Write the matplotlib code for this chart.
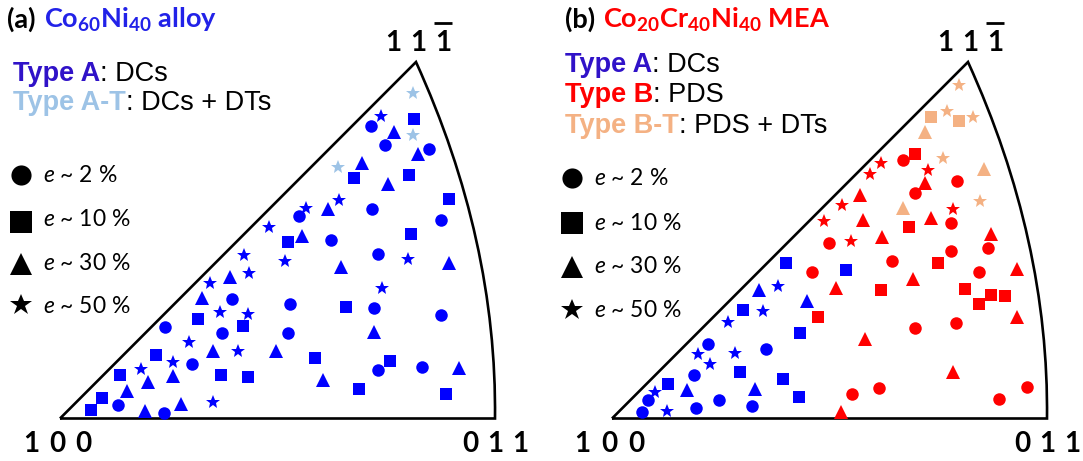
import matplotlib
matplotlib.use('Agg')
import matplotlib.pyplot as plt
from matplotlib.path import Path
from matplotlib.patches import PathPatch

# ---------------- data (pixel positions) ----------------
# Panel (a): Co60Ni40 alloy, Type A (blue)
a_A_circle = [(371, 125.7), (385.3, 144.7), (429, 149), (299.3, 215.7), (372, 208.7), (440.7, 220.3),
              (331.3, 240), (378, 254.3), (290.3, 304), (374.3, 307.7), (441, 315), (288, 332.7),
              (378, 370), (422.3, 366.7), (232.3, 299), (221.7, 332.7), (165, 326.7), (192.3, 363.7),
              (118, 405.3), (164, 412.7)]
a_A_square = [(414, 119), (354, 178.3), (408.7, 175), (449, 199), (287.7, 241.5), (410.7, 233.5),
              (345.7, 307.3), (314.7, 358), (390, 360.7), (359.3, 389.3), (446.3, 393.7), (198, 319.3),
              (242.7, 325.7), (156, 355), (120.3, 375.3), (220.7, 375.3), (248.3, 377), (102, 398.3),
              (91.3, 410)]
a_A_triangle = [(394, 131.7), (417.7, 154.3), (361.7, 163.3), (388, 184.3), (327.7, 209.3), (302.3, 235.7),
                (341, 266.7), (449, 263.3), (373.7, 331.7), (276.3, 351.3), (458.7, 368), (323, 379.7),
                (230, 276.7), (201.7, 298.3), (213, 350.7), (173, 375.7), (148.3, 381.7), (127.3, 390.7),
                (181.3, 404.3), (145, 411)]
a_A_star = [(380.7, 116), (338.7, 200), (306, 208), (269.3, 226.7), (284.7, 260.7), (407.7, 259.3),
            (382.3, 287.7), (244.3, 255), (249.3, 272.7), (210.3, 282.7), (220, 311.7), (248.3, 314.3),
            (189, 342.3), (238, 350.7), (173.3, 362.3), (140.7, 369.3), (213, 402.3)]
# Panel (a): Type A-T (light blue)
a_AT_star = [(413.3, 92.7), (413, 135), (338.3, 167.3)]

# Panel (b): Co20Cr40Ni40 MEA, Type A (blue)
b_A_circle = [(707.7, 344), (766.3, 348.7), (693.7, 374.7), (648.3, 400), (719, 399.7), (695.7, 408),
              (751.7, 405.7), (641.7, 411.7)]
b_A_square = [(786, 263.3), (845.7, 270.3), (743, 310.3), (800.3, 333), (740, 371.7), (782.7, 379.3),
              (667.7, 384), (799.3, 397)]
b_A_triangle = [(759, 290), (807.3, 301.3), (686.7, 390.3), (754.7, 389)]
b_A_star = [(778.3, 286), (763.3, 311), (728, 321.7), (697.7, 354), (734.7, 352.7), (710.3, 364.3),
            (655, 391.7), (666.7, 411)]
# Panel (b): Type B (red)
b_B_circle = [(903.3, 160), (956.7, 181), (915, 192.7), (950.7, 222.7), (829.3, 243), (950.7, 250.5),
              (988.3, 248.3), (891.7, 260.7), (811.7, 272.2), (979.3, 272.3), (956.3, 322.7), (915, 328.3),
              (879, 388), (1026.7, 387), (852.3, 393.7), (999, 399.3)]
b_B_square = [(915, 154.3), (909.3, 226.7), (937.7, 262.7), (881, 290.3), (964.7, 288.7), (991, 295.3),
              (1005.3, 296.3), (978.7, 303.7), (818.3, 316.8)]
b_B_triangle = [(924.7, 183.3), (860, 195), (930.7, 217.7), (862.7, 220), (991, 233.7), (881.7, 237.2),
                (1017.3, 269), (913, 279), (835.7, 287.7), (1017.3, 317.3), (865, 339), (953, 371.7),
                (841.3, 412.3)]
b_B_star = [(880.7, 162.7), (927.7, 170), (870, 174.3), (841.7, 205), (953.3, 209), (824, 220.7),
            (850.7, 241)]
# Panel (b): Type B-T (salmon)
b_BT_star = [(959.3, 85), (947, 110.7), (973.3, 116.7), (943.3, 158.3), (980, 200.7)]
b_BT_square = [(930.7, 116.7), (959, 120.7)]
b_BT_triangle = [(925, 131.7), (983.7, 169), (903.3, 208.3)]

strain_labels = ['2 %', '10 %', '30 %', '50 %']
corner_bottom_left = ['1', '0', '0']
corner_bottom_right = ['0', '1', '1']
corner_top = ['1', '1', '1']

# ---------------- style ----------------
BLUE = '#0000FF'
LIGHT = '#9DC3E6'
RED = '#FF0000'
SALMON = '#F4B183'
TYPEA_TXT = '#3012C8'
TITLE_A = '#2222E8'

plt.rcParams['mathtext.fontset'] = 'custom'
plt.rcParams['mathtext.rm'] = 'Lato:bold'
plt.rcParams['mathtext.bf'] = 'Lato:bold'
plt.rcParams['mathtext.it'] = 'Lato:italic'

W, H = 1083, 461
fig = plt.figure(figsize=(W / 100, H / 100), dpi=100)
ax = fig.add_axes([0, 0, 1, 1])
ax.set_xlim(0, W)
ax.set_ylim(H, 0)
ax.axis('off')
R = fig.canvas.get_renderer()

MS = {'o': 9.0, 's': 8.8, '^': 9.4, '*': 10.5}
LEG_MS = {'o': 14.5, 's': 15.5, '^': 15.5, '*': 16.5}


def scatter(pts, marker, color):
    xs = [p[0] for p in pts]
    ys = [p[1] for p in pts]
    ax.plot(xs, ys, linestyle='none', marker=marker, markersize=MS[marker],
            color=color, markeredgewidth=0, zorder=3)


def triangle(dx):
    O = (60 + dx, 418.5)
    A = (416 + dx, 62)
    C = (497 + dx, 240)
    B = (495 + dx, 418.5)
    path = Path([O, A, C, B, O], [Path.MOVETO, Path.LINETO, Path.CURVE3, Path.CURVE3, Path.LINETO])
    ax.add_patch(PathPatch(path, facecolor='none', edgecolor='black', lw=1.9,
                           joinstyle='miter', zorder=2))


def seq(x, y, pieces, size, family='Liberation Sans'):
    last = None
    for s, color, weight, gap in pieces:
        x += gap
        t = ax.text(x, y, s, va='baseline', ha='left', color=color, fontsize=size,
                    fontweight=weight, family=family)
        x += t.get_window_extent(renderer=R).width
        last = t
    return last


def corner(xc, y, digits, pitch=26, bar=False):
    n = len(digits)
    t = None
    for i, d in enumerate(digits):
        t = ax.text(xc + (i - (n - 1) / 2) * pitch, y, d, ha='center', va='baseline',
                    fontsize=20, fontweight='bold', family='Lato', color='black')
    if bar:
        bb = t.get_window_extent(renderer=R)
        inv = ax.transData.inverted()
        (x0, y0), (x1, y1) = inv.transform([(bb.x0, bb.y0), (bb.x1, bb.y1)])
        ax.plot([x0 - 1, x1 + 1], [y1 - 7, y1 - 7], color='black', lw=2.0, solid_capstyle='butt')


def legend(xm, xt, ys_m, ys_t):
    for mk, ym, yt, lab in zip(['o', 's', '^', '*'], ys_m, ys_t, strain_labels):
        ax.plot([xm], [ym], marker=mk, markersize=LEG_MS[mk], color='black',
                markeredgewidth=0, linestyle='none')
        ax.text(xt, yt, r'$\mathit{e}$ ~ ' + lab, va='baseline', ha='left',
                fontsize=16.5, family='Lato', color='black')


# ---------------- panel (a) ----------------
triangle(0)
scatter(a_A_circle, 'o', BLUE)
scatter(a_A_square, 's', BLUE)
scatter(a_A_triangle, '^', BLUE)
scatter(a_A_star, '*', BLUE)
scatter(a_AT_star, '*', LIGHT)

seq(7, 28, [('(a)', 'black', 'bold', 0),
            (r'Co$_{\mathbf{60}}$Ni$_{\mathbf{40}}$ alloy', TITLE_A, 'bold', 8)], 19.5, 'Lato')
seq(13, 81, [('Type A', TYPEA_TXT, 'bold', 0), (': DCs', 'black', 'normal', 0)], 19.5)
seq(13, 110, [('Type A-T', LIGHT, 'bold', 0), (': DCs + DTs', 'black', 'normal', 0)], 19.5)
legend(21, 43, [175, 221.5, 264, 305], [182, 226, 270, 313])

corner(57, 452, corner_bottom_left, pitch=26)
corner(495, 452, corner_bottom_right, pitch=25)
corner(418, 51, corner_top, pitch=25, bar=True)

# ---------------- panel (b) ----------------
dx = 552
triangle(dx)
scatter(b_A_circle, 'o', BLUE)
scatter(b_A_square, 's', BLUE)
scatter(b_A_triangle, '^', BLUE)
scatter(b_A_star, '*', BLUE)
scatter(b_B_circle, 'o', RED)
scatter(b_B_square, 's', RED)
scatter(b_B_triangle, '^', RED)
scatter(b_B_star, '*', RED)
scatter(b_BT_star, '*', SALMON)
scatter(b_BT_square, 's', SALMON)
scatter(b_BT_triangle, '^', SALMON)

seq(565, 28, [('(b)', 'black', 'bold', 0),
              (r'Co$_{\mathbf{20}}$Cr$_{\mathbf{40}}$Ni$_{\mathbf{40}}$ MEA', RED, 'bold', 8)], 19.5, 'Lato')
seq(565, 72, [('Type A', TYPEA_TXT, 'bold', 0), (': DCs', 'black', 'normal', 0)], 19.5)
seq(565, 102, [('Type B', RED, 'bold', 0), (': PDS', 'black', 'normal', 0)], 19.5)
seq(565, 133, [('Type B-T', SALMON, 'bold', 0), (': PDS + DTs', 'black', 'normal', 0)], 19.5)
legend(572, 594, [178, 223, 267, 310], [185, 230, 273, 317])

corner(57 + dx, 452, corner_bottom_left, pitch=27)
corner(495 + dx, 452, corner_bottom_right, pitch=25)
corner(418 + dx, 51, corner_top, pitch=25, bar=True)

fig.savefig('out.png', dpi=100)
